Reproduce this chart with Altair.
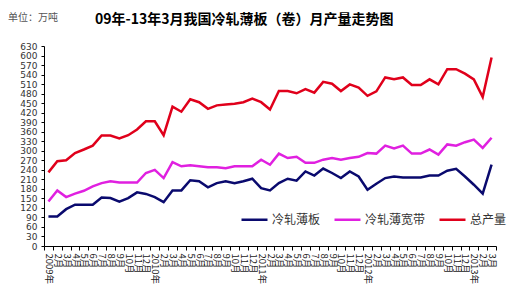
import altair as alt
import pandas as pd

series_names = ["冷轧薄板", "冷轧薄宽带", "总产量"]
series_colors = ["#0a0a6e", "#e020e0", "#e0001b"]

# 2009-01 .. 2013-03 (51 months)
sheet = [93, 93, 116, 130, 130, 130, 153, 151, 140, 151, 169, 164,
         154, 138, 175, 175, 207, 204, 185, 198, 204, 198, 204, 212,
         182, 175, 198, 212, 206, 235, 222, 244, 230, 214, 235, 219,
         177, 196, 214, 219, 216, 216, 216, 222, 222, 237, 243, 219,
         193, 165, 256]
strip = [140, 175, 154, 165, 174, 188, 198, 204, 200, 200, 200, 230,
         240, 214, 264, 251, 254, 251, 248, 248, 245, 251, 251, 251,
         272, 256, 291, 277, 281, 262, 262, 272, 277, 272, 277, 281,
         293, 291, 316, 307, 316, 291, 291, 304, 288, 320, 316, 327,
         335, 309, 341]
total = [232, 267, 270, 293, 304, 316, 348, 348, 339, 349, 367, 393,
         393, 349, 439, 423, 462, 453, 432, 443, 446, 448, 453, 464,
         453, 430, 488, 488, 481, 494, 483, 517, 511, 488, 509, 499,
         473, 487, 531, 525, 531, 507, 507, 525, 509, 557, 557, 543,
         525, 469, 594]

y_ticks = list(range(0, 631, 30))
title_text = "09年-13年3月我国冷轧薄板（卷）月产量走势图"
unit_text = "单位：万吨"

rows = []
for name, vals in zip(series_names, [sheet, strip, total]):
    for i, v in enumerate(vals):
        rows.append({"i": i, "value": v, "series": name})
df = pd.DataFrame(rows)

n = len(total)
x_vals = [k / 2 - 0.5 for k in range(2 * n + 1)]

label_expr = (
    "datum.value % 1 != 0 ? '' : "
    "(datum.value % 12 == 0 ? (2009 + floor(datum.value / 12)) + '年' : "
    "((datum.value % 12) + 1) + '月')"
)

lines = alt.Chart(df).mark_line(strokeWidth=2.5).encode(
    x=alt.X("i:Q",
            scale=alt.Scale(domain=[-0.5, n - 0.5], nice=False, zero=False),
            axis=alt.Axis(values=x_vals, labelExpr=label_expr, labelAngle=90,
                          labelAlign="left", labelBaseline="middle",
                          labelFontSize=9.5, labelColor="#222", labelOverlap=False,
                          labelFlush=False, labelBound=False, labelPadding=3,
                          tickSize=4, tickColor="#000", domainColor="#000",
                          tickOpacity={"condition": {"test": "datum.value % 1 != 0", "value": 1}, "value": 0},
                          grid=False, title=None,
                          labelFont="Noto Sans CJK SC")),
    y=alt.Y("value:Q",
            scale=alt.Scale(domain=[0, 630], nice=False),
            axis=alt.Axis(values=y_ticks, grid=False, title=None, labelFontSize=9,
                          labelColor="#333", tickSize=3, tickColor="#000",
                          domainColor="#000", labelPadding=4,
                          labelFont="DejaVu Sans")),
    color=alt.Color("series:N",
                    scale=alt.Scale(domain=series_names, range=series_colors),
                    sort=series_names,
                    legend=alt.Legend(orient="none", legendX=196, legendY=159,
                                      direction="horizontal", columns=3,
                                      title=None, symbolType="stroke",
                                      symbolSize=676, symbolStrokeWidth=2.5,
                                      labelFontSize=12, labelColor="#333",
                                      labelFont="Noto Sans CJK SC",
                                      columnPadding=8, labelOffset=3)),
)

unit = alt.Chart(pd.DataFrame({"t": [unit_text]})).mark_text(
    align="left", baseline="middle", fontSize=10, color="#555",
    font="Noto Sans CJK SC"
).encode(text="t:N", x=alt.value(-36), y=alt.value(-28))

title = alt.Chart(pd.DataFrame({"t": [title_text]})).mark_text(
    align="left", baseline="middle", fontSize=14, fontWeight="bold", color="#000",
    font="Noto Sans CJK SC"
).encode(text="t:N", x=alt.value(51), y=alt.value(-26))

chart = alt.layer(lines, unit, title).properties(
    width=452, height=200,
    autosize=alt.AutoSizeParams(type="none"),
    padding={"left": 44, "top": 46, "right": 13, "bottom": 56},
).configure_view(stroke=None)

chart.save("out.html", embed_options={"renderer": "svg", "actions": False})
